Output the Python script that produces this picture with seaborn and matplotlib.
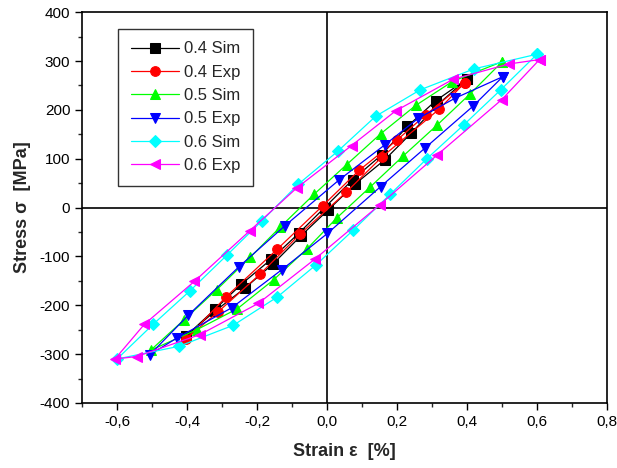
import numpy as np
import pandas as pd
import matplotlib
matplotlib.use("Agg")
import matplotlib.pyplot as plt
from matplotlib.ticker import MultipleLocator, FuncFormatter
import seaborn as sns

# loops: unloading (upper) branch followed by loading (lower) branch
sim04_x = [0.399, 0.311, 0.229, 0.156, 0.073, -0.007, -0.08, -0.16, -0.245, -0.32, -0.403,
           -0.32, -0.235, -0.154, -0.075, 0.003, 0.08, 0.165, 0.24, 0.315, 0.399]
sim04_y = [263, 219, 166, 108, 57, 0, -52, -106, -157, -208, -263,
           -212, -165, -115, -58, -5, 48, 98, 152, 210, 263]

exp04_x = [0.394, 0.282, 0.201, 0.091, -0.012, -0.142, -0.289, -0.403,
           -0.312, -0.191, -0.077, 0.054, 0.156, 0.321, 0.394]
exp04_y = [256, 190, 139, 76, 4, -85, -183, -269,
           -214, -136, -54, 31, 103, 202, 256]

sim05_x = [0.501, 0.358, 0.253, 0.153, 0.056, -0.036, -0.134, -0.22, -0.315, -0.409, -0.504,
           -0.372, -0.256, -0.153, -0.058, 0.028, 0.123, 0.218, 0.313, 0.409, 0.501]
sim05_y = [299, 258, 209, 151, 88, 28, -40, -102, -168, -230, -292,
           -250, -207, -148, -85, -21, 42, 106, 168, 233, 299]

exp05_x = [0.502, 0.366, 0.261, 0.166, 0.035, -0.12, -0.253, -0.396, -0.506,
           -0.429, -0.272, -0.129, 0.001, 0.153, 0.28, 0.416, 0.502]
exp05_y = [268, 224, 183, 129, 57, -37, -122, -220, -301,
           -267, -205, -127, -53, 43, 122, 207, 268]

sim06_x = [0.60, 0.42, 0.266, 0.139, 0.03, -0.082, -0.186, -0.287, -0.391, -0.497, -0.60,
           -0.423, -0.268, -0.142, -0.031, 0.075, 0.18, 0.285, 0.39, 0.496, 0.60]
sim06_y = [314, 284, 241, 187, 115, 48, -27, -98, -170, -239, -310,
           -284, -241, -183, -117, -46, 27, 100, 169, 241, 314]

exp06_x = [0.607, 0.52, 0.361, 0.196, 0.07, -0.087, -0.22, -0.379, -0.522, -0.606,
           -0.544, -0.363, -0.196, -0.034, 0.151, 0.315, 0.499, 0.607]
exp06_y = [303, 294, 263, 198, 127, 40, -47, -151, -239, -310,
           -305, -260, -196, -105, 6, 108, 221, 303]

names = ["0.4 Sim", "0.4 Exp", "0.5 Sim", "0.5 Exp", "0.6 Sim", "0.6 Exp"]
xs = [sim04_x, exp04_x, sim05_x, exp05_x, sim06_x, exp06_x]
ys = [sim04_y, exp04_y, sim05_y, exp05_y, sim06_y, exp06_y]
colors = ["#000000", "#ff0000", "#00ff00", "#0000ff", "#00ffff", "#ff00ff"]
markers = ["s", "o", "^", "v", "D", "<"]

frames = []
for n, x, y in zip(names, xs, ys):
    frames.append(pd.DataFrame({"strain": x, "stress": y, "series": n,
                                "order": range(len(x))}))
df = pd.concat(frames, ignore_index=True)

sns.set_theme(style="ticks")
plt.rcParams["font.family"] = ["Liberation Sans", "DejaVu Sans"]

fig = plt.figure(figsize=(6.17, 4.68), dpi=100)
ax = fig.add_axes([0.133, 0.139, 0.851, 0.835])

ax.axhline(0, color="black", lw=1.2, zorder=1)
ax.axvline(0, color="black", lw=1.2, zorder=1)

for n, c, m in zip(names, colors, markers):
    sns.lineplot(data=df[df.series == n], x="strain", y="stress", sort=False,
                 estimator=None, color=c, marker=m, markersize=7 if m != "D" else 6,
                 markeredgecolor=c, linewidth=0.9, label=n, ax=ax, zorder=3)

ax.set_xlim(-0.7, 0.8)
ax.set_ylim(-400, 400)
ax.xaxis.set_major_locator(MultipleLocator(0.2))
ax.xaxis.set_minor_locator(MultipleLocator(0.1))
ax.yaxis.set_major_locator(MultipleLocator(100))
ax.yaxis.set_minor_locator(MultipleLocator(50))
ax.xaxis.set_major_formatter(FuncFormatter(lambda v, p: f"{v:.1f}".replace(".", ",").replace("-0,0", "0,0")))
ax.yaxis.set_major_formatter(FuncFormatter(lambda v, p: f"{v:.0f}"))
ax.tick_params(which="major", direction="out", length=5, width=1, labelsize=11, colors="black")
ax.tick_params(which="minor", direction="out", length=3, width=1)
for s in ax.spines.values():
    s.set_linewidth(1.2)
    s.set_color("black")

ax.set_xlabel("Strain ε  [%]", fontsize=13, fontweight="bold", labelpad=10)
ax.set_ylabel("Stress σ  [MPa]", fontsize=13, fontweight="bold", labelpad=6)

leg = ax.legend(loc="upper left", bbox_to_anchor=(0.069, 0.957), borderaxespad=0,
                fontsize=12, frameon=True, fancybox=False, edgecolor="black",
                handlelength=2.9, labelspacing=0.5, borderpad=0.75, handletextpad=0.3)
leg.get_frame().set_linewidth(1.0)

fig.savefig("out.png", dpi=100)
